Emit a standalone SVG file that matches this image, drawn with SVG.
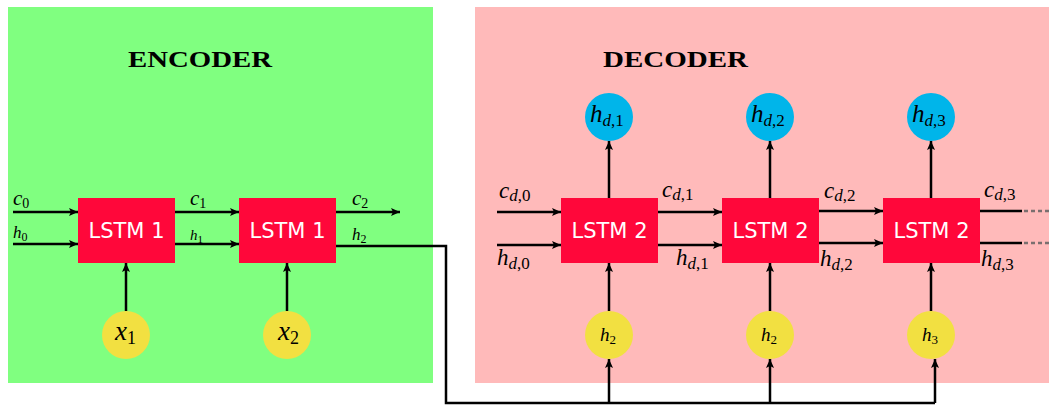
<svg xmlns="http://www.w3.org/2000/svg" width="1049" height="405" viewBox="0 0 1049 405">
<style>
.lstm{fill:#ff073a}
.lt{font-family:"DejaVu Sans",sans-serif;font-size:21px;fill:#fff;text-anchor:middle}
.ttl{font-family:"Liberation Serif",serif;font-weight:bold;font-size:24px;fill:#000}
.m{font-family:"Liberation Serif",serif;fill:#000}
.i{font-style:italic}
.yel{fill:#f2e041}
.blu{fill:#00b5ea}
.ar{fill:none;stroke:#000;stroke-width:2.5;marker-end:url(#ah)}
.ln{fill:none;stroke:#000;stroke-width:2.5}
.dash{fill:none;stroke:#7a6f6f;stroke-width:2.5;stroke-dasharray:4 3}
</style>
<defs>
<marker id="ah" markerUnits="userSpaceOnUse" markerWidth="12" markerHeight="10" refX="9" refY="4" orient="auto">
<path d="M0,0 L9,4 L0,8 L2,4 Z" fill="#000"/>
</marker>
</defs>
<rect x="0" y="0" width="1049" height="405" fill="#fff"/>
<g id="encoder-bg"><rect x="8" y="7" width="425" height="376" fill="#80ff80"/></g>
<g id="decoder-bg"><rect x="475" y="7" width="574" height="376" fill="#ffbaba"/></g>
<text class="ttl" x="128" y="67" textLength="144" lengthAdjust="spacingAndGlyphs">ENCODER</text>
<text class="ttl" x="603" y="67" textLength="145" lengthAdjust="spacingAndGlyphs">DECODER</text>

<g id="connectors">
<path class="ar" d="M13,212 H78"/>
<path class="ar" d="M13,244 H78"/>
<path class="ar" d="M175,212 H239"/>
<path class="ar" d="M175,244 H239"/>
<path class="ar" d="M336,212 H400"/>
<path class="ar" d="M126,311 V263"/>
<path class="ar" d="M287,311 V263"/>
<path class="ln" stroke-width="2.2" d="M336,246 H446 V403 H935"/>
<path class="ar" d="M609,403 V359"/>
<path class="ar" d="M770,403 V359"/>
<path class="ar" d="M935,403 V359"/>
<path class="ar" d="M609,311 V263"/>
<path class="ar" d="M770,311 V263"/>
<path class="ar" d="M931,311 V263"/>
<path class="ar" d="M609,198 V141"/>
<path class="ar" d="M770,198 V141"/>
<path class="ar" d="M931,198 V141"/>
<path class="ar" d="M497,212 H561"/>
<path class="ar" d="M497,245 H561"/>
<path class="ar" d="M658,212 H722"/>
<path class="ar" d="M658,245 H722"/>
<path class="ar" d="M819,211 H883"/>
<path class="ar" d="M819,243 H883"/>
<path class="ln" d="M980,211 H1022"/>
<path class="ln" d="M980,243 H1022"/>
<path class="dash" d="M1024,211 H1049"/>
<path class="dash" d="M1024,243 H1049"/>
</g>

<g id="enc-lstm1"><rect class="lstm" x="78" y="198" width="97" height="65"/><text class="lt" x="126.5" y="238">LSTM 1</text></g>
<g id="enc-lstm2"><rect class="lstm" x="239" y="198" width="97" height="65"/><text class="lt" x="287.5" y="238">LSTM 1</text></g>
<g id="x1"><circle class="yel" cx="126" cy="335" r="24"/><text class="m" x="115" y="340" font-size="27"><tspan class="i">x</tspan><tspan font-size="18" dy="4">1</tspan></text></g>
<g id="x2"><circle class="yel" cx="287" cy="335" r="24"/><text class="m" x="278" y="340" font-size="27"><tspan class="i">x</tspan><tspan font-size="18" dy="4">2</tspan></text></g>

<g id="dec-lstm1"><rect class="lstm" x="561" y="198" width="97" height="65"/><text class="lt" x="609.5" y="238">LSTM 2</text></g>
<g id="dec-lstm2"><rect class="lstm" x="722" y="198" width="97" height="65"/><text class="lt" x="770.5" y="238">LSTM 2</text></g>
<g id="dec-lstm3"><rect class="lstm" x="883" y="198" width="97" height="65"/><text class="lt" x="931.5" y="238">LSTM 2</text></g>

<g id="hd1"><circle class="blu" cx="609" cy="117" r="24"/><text class="m" x="590" y="122" font-size="25"><tspan class="i">h</tspan><tspan font-size="17" dy="4"><tspan class="i">d</tspan>,1</tspan></text></g>
<g id="hd2"><circle class="blu" cx="770" cy="117" r="24"/><text class="m" x="751" y="122" font-size="25"><tspan class="i">h</tspan><tspan font-size="17" dy="4"><tspan class="i">d</tspan>,2</tspan></text></g>
<g id="hd3"><circle class="blu" cx="931" cy="117" r="24"/><text class="m" x="912" y="122" font-size="25"><tspan class="i">h</tspan><tspan font-size="17" dy="4"><tspan class="i">d</tspan>,3</tspan></text></g>

<g id="in1"><circle class="yel" cx="609" cy="335" r="24"/><text class="m" x="600" y="341" font-size="19"><tspan class="i">h</tspan><tspan font-size="13" dy="3">2</tspan></text></g>
<g id="in2"><circle class="yel" cx="770" cy="335" r="24"/><text class="m" x="761" y="341" font-size="19"><tspan class="i">h</tspan><tspan font-size="13" dy="3">2</tspan></text></g>
<g id="in3"><circle class="yel" cx="931" cy="335" r="24"/><text class="m" x="922" y="341" font-size="19"><tspan class="i">h</tspan><tspan font-size="13" dy="3">3</tspan></text></g>

<g id="labels">
<text class="m" x="13" y="205" font-size="21"><tspan class="i">c</tspan><tspan font-size="14" dy="3">0</tspan></text>
<text class="m" x="13" y="238" font-size="17"><tspan class="i">h</tspan><tspan font-size="12" dy="3">0</tspan></text>
<text class="m" x="190" y="205" font-size="21"><tspan class="i">c</tspan><tspan font-size="14" dy="3">1</tspan></text>
<text class="m" x="190" y="240" font-size="15"><tspan class="i">h</tspan><tspan font-size="11" dy="3">1</tspan></text>
<text class="m" x="352" y="205" font-size="21"><tspan class="i">c</tspan><tspan font-size="14" dy="3">2</tspan></text>
<text class="m" x="352" y="240" font-size="17"><tspan class="i">h</tspan><tspan font-size="12" dy="3">2</tspan></text>

<text class="m" x="499" y="198" font-size="23"><tspan class="i">c</tspan><tspan font-size="17" dy="3"><tspan class="i">d</tspan>,0</tspan></text>
<text class="m" x="497" y="265" font-size="23"><tspan class="i">h</tspan><tspan font-size="17" dy="4"><tspan class="i">d</tspan>,0</tspan></text>
<text class="m" x="662" y="197" font-size="23"><tspan class="i">c</tspan><tspan font-size="17" dy="3"><tspan class="i">d</tspan>,1</tspan></text>
<text class="m" x="676" y="265" font-size="23"><tspan class="i">h</tspan><tspan font-size="17" dy="4"><tspan class="i">d</tspan>,1</tspan></text>
<text class="m" x="824" y="198" font-size="23"><tspan class="i">c</tspan><tspan font-size="17" dy="3"><tspan class="i">d</tspan>,2</tspan></text>
<text class="m" x="820" y="266" font-size="23"><tspan class="i">h</tspan><tspan font-size="17" dy="4"><tspan class="i">d</tspan>,2</tspan></text>
<text class="m" x="984" y="197" font-size="23"><tspan class="i">c</tspan><tspan font-size="17" dy="3"><tspan class="i">d</tspan>,3</tspan></text>
<text class="m" x="981" y="266" font-size="23"><tspan class="i">h</tspan><tspan font-size="17" dy="4"><tspan class="i">d</tspan>,3</tspan></text>
</g>
</svg>
